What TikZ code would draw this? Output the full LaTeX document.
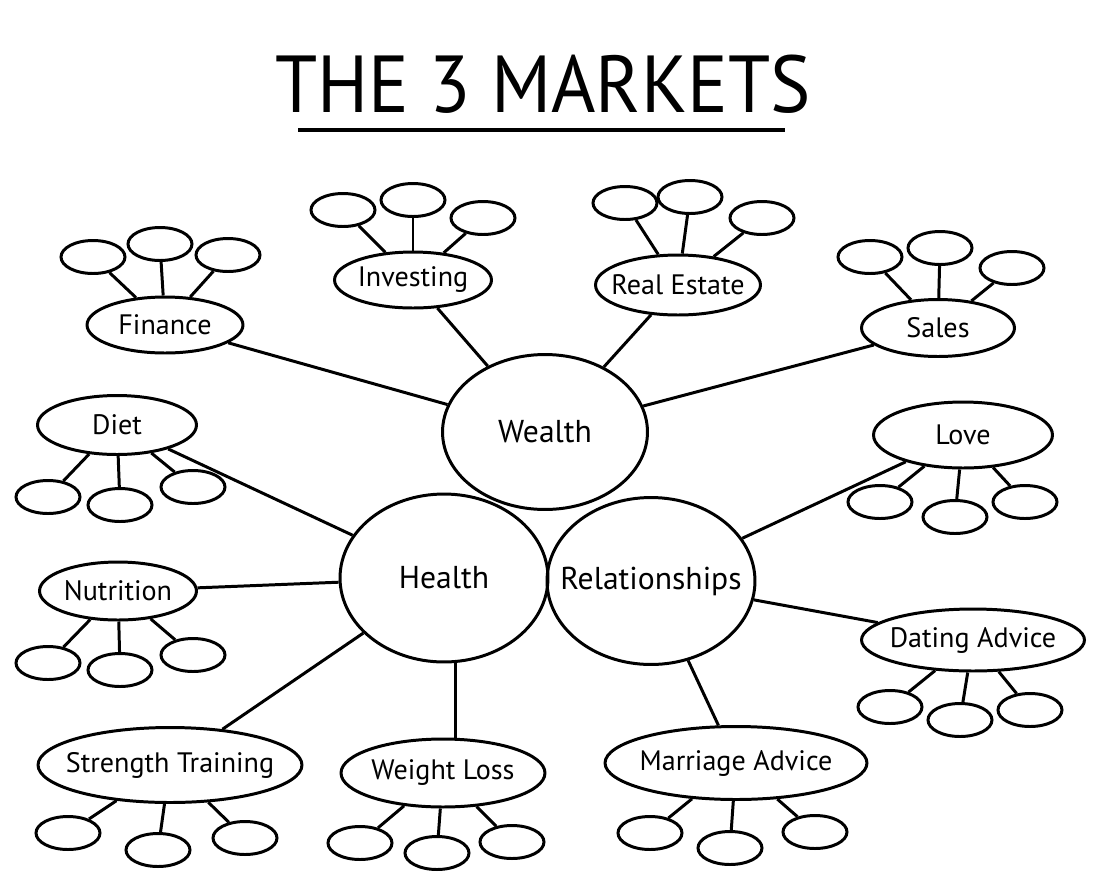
\documentclass[tikz,border=0pt]{standalone}
\usepackage{fontspec}
\setmainfont{PT Sans}
\usetikzlibrary{shapes.geometric}

\begin{document}
\begin{tikzpicture}[x=0.02cm,y=-0.02cm,line width=1.7pt,
    centre/.style={draw, ellipse, inner ysep=0pt, inner xsep=-2cm, font=\fontsize{18}{18}\selectfont},
    sat/.style={draw, ellipse, inner ysep=0pt, inner xsep=-2cm, font=\fontsize{16}{16}\selectfont},
    petit/.style={draw, ellipse, inner sep=0pt, minimum width=1.28cm, minimum height=0.66cm}]
            \useasboundingbox (0,0) rectangle (1116,890);

            % Titre
            \node (titre) at (543,84) {\scalebox{0.94}[1]{\fontsize{46}{46}\selectfont THE 3 MARKETS}};
            \draw[line width=2.8pt] (298,130) -- (785,130);

            % Les trois marchés
            \node[centre, minimum width=4.1cm, minimum height=3.1cm] (Wealth) at (545,432) {Wealth};
            \node[centre, minimum width=4.16cm, minimum height=3.36cm] (Health) at (444,578) {Health};
            \node[centre, minimum width=4.16cm, minimum height=3.34cm] (Rel) at (651,581) {Relationships};

            % Sous-marchés
            \node[sat, minimum width=3.12cm, minimum height=1.12cm] (Finance) at (165,325) {Finance};
            \node[sat, minimum width=3.14cm, minimum height=1.12cm] (Investing) at (413,280) {Investing};
            \node[sat, minimum width=3.3cm, minimum height=1.2cm] (Estate) at (678,285) {Real Estate};
            \node[sat, minimum width=3.06cm, minimum height=1.14cm] (Sales) at (938,328) {Sales};
            \node[sat, minimum width=3.18cm, minimum height=1.18cm] (Diet) at (117,425) {Diet};
            \node[sat, minimum width=3.58cm, minimum height=1.32cm] (Love) at (963,435) {Love};
            \node[sat, minimum width=3.14cm, minimum height=1.16cm] (Nutrition) at (118,591) {Nutrition};
            \node[sat, minimum width=4.46cm, minimum height=1.24cm] (Dating) at (973,640) {Dating Advice};
            \node[sat, minimum width=5.28cm, minimum height=1.5cm] (Strength) at (170,765) {Strength Training};
            \node[sat, minimum width=4.08cm, minimum height=1.36cm] (Weight) at (443,773) {Weight Loss};
            \node[sat, minimum width=5.24cm, minimum height=1.46cm] (Marriage) at (736,763) {Marriage Advice};

            % Liens vers les marchés
            \draw (Wealth) -- (Finance);
            \draw (Wealth) -- (Investing);
            \draw (Wealth) -- (Estate);
            \draw (Wealth) -- (Sales);
            \draw (Health) -- (Diet);
            \draw (Health) -- (Nutrition);
            \draw (Health) -- (Strength);
            \draw (Health.-82) -- (Health.-82 |- Weight.north);
            \draw (Rel) -- (Love);
            \draw (Rel) -- (Dating);
            \draw (Rel) -- (Marriage);

            % Petites bulles vides
            \foreach \nom/\ax/\ay/\bx/\by/\cx/\cy in {
                Finance/93/257/160/244/228/255, Investing/343/210/413/200/483/218,
                Estate/625/203/690/197/762/218, Sales/870/257/940/248/1012/268,
                Diet/48/497/120/505/193/487, Love/880/502/955/517/1025/502,
                Nutrition/48/663/120/670/193/655, Dating/890/707/960/720/1030/710,
                Strength/68/833/158/850/245/838, Weight/360/843/437/853/512/842,
                Marriage/650/833/730/848/815/832} {
                \node[petit] (\nom-1) at (\ax,\ay) {};
                \node[petit] (\nom-2) at (\bx,\by) {};
                \node[petit] (\nom-3) at (\cx,\cy) {};
                \draw (\nom) -- (\nom-1);
                \draw (\nom) -- (\nom-2);
                \draw (\nom) -- (\nom-3);
            }
        \end{tikzpicture}
\end{document}
